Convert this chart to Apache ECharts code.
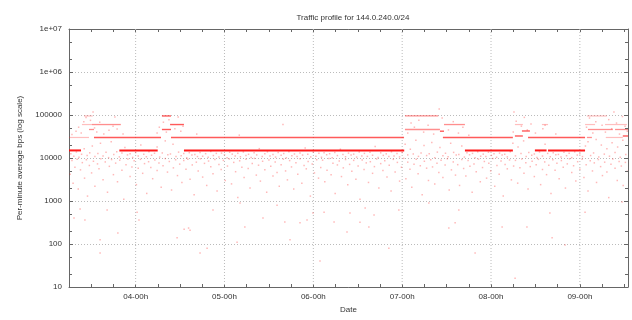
<!DOCTYPE html>
<html><head><meta charset="utf-8">
<script src="https://cdn.jsdelivr.net/npm/echarts@6/dist/echarts.min.js"></script>
<style>html,body{margin:0;padding:0;background:#fff}#c{width:632px;height:320px}</style>
</head><body><div id="c"></div>
<script>
// ---- data (x in hours since 03-00h, y in bps) ----
var tickHours = [24, 48, 72, 96, 120, 144];
var tickLabels = ['04-00h', '05-00h', '06-00h', '07-00h', '08-00h', '09-00h'];
var yTicks = [10, 100, 1000, 10000, 100000, 1000000, 10000000];
var yTickLabels = ['10', '100', '1000', '10000', '100000', '1e+06', '1e+07'];
var yMinorTicks = [20, 50, 200, 500, 2000, 5000, 20000, 50000, 200000, 500000, 2000000, 5000000];

// steady bands [startHour, endHour, bps]
var band15k = [[6,9.24,15000],[19.6,29.96,15000],[37.05,96.55,15000],[112.95,125.9,15000],[131.85,135.0,15000],[135.4,145.4,15000]];
var bandMain = [[12.75,30.85,30000],[33.55,96.5,30000],[107.0,125.9,30000],[130.0,145.4,30000],[126.45,128.6,32500],[31.1,33.55,95000],[31.1,33.55,46000],[106.2,107.3,42000],[128.35,130.5,42500],[155.6,157,32500],[33.3,37.05,60000]];
var bandSoft = [[96.75,105.75,95000],[96.75,106.2,46000],[107.3,112.95,60000],[12.2,20.0,60000],[11.4,12.75,46000],[145.9,147.25,30000],[146.2,152.9,46000],[153.5,157,46000]];
var bandFaint = [[6,11.4,30000],[10.05,12.4,95000],[9.5,12.2,60000],[145.9,151.3,95000],[145.4,148.1,60000],[150.8,156.7,60000],[151,155.6,30000],[126.45,128.6,60000],[133.75,135.4,60000]];

var noiseDeep = [[7.35,400],[9.0,650],[10.3,360],[14.4,125],[14.4,62],[16.3,620],[19.2,180],[24.4,550],[24.9,360],[35.2,140],[37.1,220],[38.3,235],[38.7,210],[41.4,62],[43.3,80],[44.9,620],[51.4,110],[52.2,900],[53.5,250],[58.4,400],[62.2,800],[64.3,325],[65.7,125],[68.4,310],[70.3,360],[71.9,525],[73.8,40],[74.9,550],[77.6,325],[81.1,190],[81.9,525],[84.6,320],[86.0,690],[87.0,250],[88.4,470],[92.4,80],[95.1,620],[103.2,900],[108.6,235],[110.3,310],[111.3,620],[115.7,62],[123.0,250],[126.5,16],[129.7,250],[135.9,525],[136.5,140],[140.0,95],[145.4,550],[155.4,950]];
var noiseMid = [[6.3,4200],[6.8,8800],[7.1,2600],[7.6,6100],[8.2,9400],[8.5,1900],[9.1,5300],[9.6,7800],[10.2,3400],[10.7,9100],[11.0,1300],[11.5,6700],[12.1,4500],[12.6,8400],[13.0,2200],[13.7,7300],[14.1,5600],[14.6,9600],[15.2,3100],[15.8,8100],[16.4,1600],[16.9,6400],[17.5,9200],[18.0,4100],[18.6,7600],[19.1,2800],[19.7,8900],[20.3,5200],[20.8,1100],[21.4,7000],[21.9,9500],[22.5,3700],[23.0,6200],[23.6,8600],[24.2,2400],[24.7,5800],[25.3,9300],[25.9,4400],[26.4,7400],[27.0,1500],[27.5,8200],[28.1,6000],[28.6,3300],[29.2,9000],[29.8,5100],[30.3,7700],[30.9,2100],[31.4,6600],[32.0,9700],[32.6,4700],[33.1,8300],[33.7,1800],[34.2,5900],[34.8,9100],[35.3,3900],[35.9,7200],[36.5,2700],[37.0,8700],[37.6,5500],[38.1,9400],[38.7,3200],[39.3,6900],[39.8,1400],[40.4,8000],[40.9,5000],[41.5,9600],[42.1,3600],[42.6,7500],[43.2,2300],[43.7,8500],[44.3,6300],[44.9,4300],[45.4,9200],[46.0,1700],[46.5,7100],[47.1,5400],[47.7,8800],[48.2,3000],[48.8,6500],[49.3,9500],[49.9,2500],[50.5,7900],[51.0,4800],[51.6,1200],[52.1,8600],[52.7,6100],[53.3,3500],[53.8,9300],[54.4,5700],[54.9,2000],[55.5,7400],[56.1,9800],[56.6,4000],[57.2,6800],[57.7,2900],[58.3,8400],[58.9,5300],[59.4,1600],[60.0,9000],[60.5,6400],[61.1,3800],[61.7,8100],[62.2,4600],[62.8,2200],[63.3,7000],[63.9,9400],[64.5,5000],[65.0,3100],[65.6,8700],[66.1,6200],[66.7,1900],[67.3,7800],[67.8,4200],[68.4,9600],[68.9,2600],[69.5,6700],[70.1,5600],[70.6,8300],[71.2,1300],[71.7,7300],[72.3,4500],[72.9,9100],[73.4,3400],[74.0,6000],[74.5,8900],[75.1,2800],[75.7,5200],[76.2,9700],[76.8,4100],[77.3,7600],[77.9,1500],[78.5,6900],[79.0,8500],[79.6,3700],[80.1,5900],[80.7,9200],[81.3,2400],[81.8,7100],[82.4,4900],[82.9,8800],[83.5,3200],[84.1,6500],[84.6,1100],[85.2,9000],[85.7,5400],[86.3,7700],[86.9,2700],[87.4,8200],[88.0,4400],[88.5,6300],[89.1,9500],[89.7,2000],[90.2,7400],[90.8,5100],[91.3,8600],[91.9,3600],[92.5,6800],[93.0,1700],[93.6,9300],[94.1,4700],[94.7,7900],[95.3,2900],[95.8,6100],[96.4,9800],[97.0,3300],[97.5,8000],[98.1,5500],[98.6,2100],[99.2,7200],[99.8,9400],[100.3,4300],[100.9,6600],[101.4,1400],[102.0,8400],[102.6,5800],[103.1,3000],[103.7,9100],[104.2,6200],[104.8,2500],[105.4,7500],[105.9,4600],[106.5,8900],[107.0,3500],[107.6,6900],[108.2,9600],[108.7,1800],[109.3,5300],[109.8,8100],[110.4,4000],[111.0,7000],[111.5,2300],[112.1,9200],[112.6,5700],[113.2,3800],[113.8,8700],[114.3,6400],[114.9,1600],[115.4,7300],[116.0,4800],[116.6,9400],[117.1,2800],[117.7,6000],[118.2,8300],[118.8,3400],[119.4,7600],[119.9,5000],[120.5,9700],[121.0,2200],[121.6,6700],[122.2,4200],[122.7,8500],[123.3,1300],[123.8,7100],[124.4,5600],[125.0,9000],[125.5,3100],[126.1,6500],[126.6,8800],[127.2,2600],[127.8,5900],[128.3,9500],[128.9,4400],[129.4,7800],[130.0,1900],[130.6,6300],[131.1,8400],[131.7,3700],[132.2,7000],[132.8,9300],[133.4,2400],[133.9,5400],[134.5,8100],[135.0,4100],[135.6,6800],[136.2,1500],[136.7,9100],[137.3,5200],[137.8,7500],[138.4,3300],[139.0,8700],[139.5,6100],[140.1,2000],[140.6,7300],[141.2,9600],[141.8,4600],[142.3,6600],[142.9,2900],[143.4,8200],[144.0,5500],[144.6,9400],[145.1,3500],[145.7,7000],[146.2,1700],[146.8,8600],[147.4,5000],[147.9,7700],[148.5,2700],[149.0,9200],[149.6,6300],[150.1,3900],[150.7,8000],[151.3,4700],[151.8,1200],[152.4,7200],[152.9,9500],[153.5,5800],[154.1,3000],[154.6,8300],[155.2,6500],[155.7,2300],[156.3,7900],[156.8,4900]];
var noiseNear = [[6.5,12500],[7.3,11000],[8.0,13800],[8.7,10400],[9.4,12200],[10.1,16500],[10.9,11500],[11.6,13200],[12.3,19000],[13.0,10800],[13.8,12800],[14.5,22000],[15.2,11200],[16.0,13600],[16.7,10200],[17.4,24000],[18.1,12000],[18.9,14000],[19.6,10600],[20.3,13000],[21.1,17500],[21.8,11800],[22.5,12600],[23.2,10300],[24.0,13400],[24.7,11100],[25.4,20000],[26.2,12300],[26.9,10700],[27.6,13900],[28.3,11600],[29.1,12900],[29.8,18000],[30.5,10500],[31.2,13100],[32.0,25000],[32.7,11900],[33.4,12400],[34.1,21000],[34.9,10900],[35.6,13700],[36.3,11300],[37.0,12700],[37.8,10100],[38.5,13300],[39.2,11700],[40.0,12100],[40.7,10800],[41.4,13500],[42.1,11000],[42.9,12600],[43.6,10400],[44.3,14100],[45.0,11400],[45.8,12800],[46.5,10600],[47.2,13000],[48.0,11900],[48.7,10200],[49.4,13600],[50.1,12300],[50.9,11100],[51.6,12900],[52.3,10700],[53.1,13800],[53.8,11500],[54.5,12200],[55.2,10300],[56.0,13200],[56.7,11800],[57.4,16500],[58.2,10900],[58.9,12500],[59.6,13900],[60.3,11200],[61.1,12000],[61.8,10500],[62.5,13400],[63.3,11600],[64.0,12700],[64.7,10100],[65.4,14000],[66.2,11300],[66.9,12400],[67.6,10800],[68.4,13100],[69.1,11700],[69.8,17000],[70.5,12200],[71.3,10600],[72.0,13700],[72.7,11000],[73.5,12900],[74.2,10400],[74.9,13300],[75.6,11900],[76.4,12600],[77.1,10200],[77.8,13500],[78.5,11400],[79.3,16000],[80.0,12100],[80.7,10700],[81.5,13000],[82.2,11800],[82.9,12300],[83.7,10500],[84.4,13800],[85.1,11200],[85.8,12800],[86.6,10900],[87.3,13600],[88.0,11600],[88.7,18500],[89.5,10300],[90.2,13200],[90.9,11500],[91.7,12500],[92.4,10800],[93.1,13900],[93.8,11100],[94.6,12700],[95.3,10600],[96.0,13400],[96.8,21000],[97.5,11800],[98.2,16000],[99.0,12400],[99.7,26000],[100.4,10900],[101.1,13100],[101.9,19500],[102.6,11400],[103.3,12600],[104.0,23000],[104.8,10200],[105.5,13700],[106.2,17500],[107.0,11300],[107.7,12900],[108.4,10700],[109.1,22000],[109.9,13500],[110.6,11700],[111.3,12000],[112.1,19000],[112.8,10500],[113.5,13300],[114.2,11900],[115.0,12800],[115.7,10100],[116.4,13900],[117.2,11000],[117.9,12300],[118.6,10800],[119.3,13600],[120.1,11500],[120.8,12600],[121.5,10400],[122.3,13000],[123.0,11800],[123.7,12200],[124.4,10600],[125.2,14000],[125.9,22000],[126.6,11200],[127.3,18000],[128.1,12700],[128.8,25000],[129.5,10900],[130.2,13400],[131.0,11600],[131.7,12400],[132.4,10300],[133.1,13800],[133.9,11100],[134.6,21000],[135.3,12800],[136.0,10700],[136.8,13200],[137.5,11900],[138.2,12100],[138.9,10500],[139.7,13600],[140.4,11300],[141.1,12900],[141.8,10200],[142.6,13900],[143.3,11700],[144.0,12500],[144.7,10800],[145.5,19000],[146.2,24000],[146.9,11400],[147.7,13100],[148.4,27000],[149.1,10600],[149.8,20000],[150.6,12300],[151.3,16500],[152.0,11000],[152.7,22500],[153.5,13500],[154.2,18000],[154.9,10400],[155.6,26000],[156.4,12000]];
var noiseHigh = [[6.8,35000],[7.9,42000],[8.6,52000],[9.3,38000],[10.0,70000],[10.6,88000],[12.5,117000],[11.8,75000],[12.9,50000],[13.5,40000],[14.3,68000],[15.4,36000],[16.8,44000],[17.9,55000],[18.4,90000],[19.0,47000],[20.6,36000],[29.8,38000],[30.4,52000],[31.5,68000],[32.3,40000],[33.0,78000],[34.6,48000],[35.5,90000],[36.2,42000],[36.8,55000],[40.5,36000],[52.0,34000],[63.8,60000],[97.5,38000],[98.4,65000],[99.3,52000],[100.5,75000],[101.8,40000],[103.0,58000],[104.5,36000],[106.0,138000],[106.8,85000],[108.5,45000],[109.8,70000],[111.2,38000],[112.4,52000],[114.0,34000],[126.0,40000],[126.2,117000],[126.8,72000],[128.2,55000],[129.0,88000],[129.8,45000],[130.8,62000],[132.0,38000],[134.6,58000],[134.0,48000],[137.5,36000],[145.8,52000],[146.6,85000],[147.5,38000],[148.3,70000],[153.2,117000],[150.0,58000],[150.9,40000],[151.8,78000],[152.6,48000],[153.9,65000],[154.7,36000],[155.5,92000],[156.2,55000],[156.8,42000]];

var xMin = 6, xMax = 157, yMin = 10, yMax = 10000000;
var FONT = "'Liberation Sans', Arial, sans-serif";
var TXT = '#333';

function bandSeries(data, width, color) {
  return {
    type: 'custom', data: data, encode: { x: [0, 1], y: 2 }, z: 3, silent: true,
    renderItem: function (params, api) {
      var y = api.value(2);
      var p0 = api.coord([api.value(0), y]);
      var p1 = api.coord([api.value(1), y]);
      return { type: 'line', shape: { x1: p0[0], y1: p0[1], x2: p1[0], y2: p1[1] },
               style: { stroke: color, lineWidth: width } };
    }
  };
}

var chart = echarts.init(document.getElementById('c'), null, { renderer: 'canvas' });
var axisCommon = {
  min: xMin, max: xMax, interval: 6, type: 'value',
  axisLine: { show: true, onZero: false, lineStyle: { color: '#666', width: 1 } },
  axisTick: { show: true, inside: true, length: 3, lineStyle: { color: '#666' } },
  splitLine: { show: false }
};
var yCommon = {
  type: 'log', logBase: 10, min: yMin, max: yMax,
  axisLine: { show: true, onZero: false, lineStyle: { color: '#666', width: 1 } },
  axisTick: { show: true, inside: true, length: 4, lineStyle: { color: '#666' } }
};

chart.setOption({
  animation: false,
  backgroundColor: '#fff',
  textStyle: { fontFamily: FONT },
  title: {
    text: 'Traffic profile for 144.0.240.0/24', left: 348, top: 9, textAlign: 'center',
    textStyle: { fontFamily: FONT, fontSize: 8, fontWeight: 'normal', color: TXT }
  },
  grid: { left: 69, right: 4, top: 29, bottom: 33 },
  xAxis: [
    Object.assign({}, axisCommon, {
      position: 'bottom', name: 'Date', nameLocation: 'middle', nameGap: 19,
      nameTextStyle: { fontFamily: FONT, fontSize: 8, color: TXT },
      axisLabel: { fontFamily: FONT, fontSize: 8, color: TXT, margin: 6,
        formatter: function (v) { var i = tickHours.indexOf(Math.round(v * 1000) / 1000); return i >= 0 ? tickLabels[i] : ''; } }
    }),
    Object.assign({}, axisCommon, { position: 'top', axisLabel: { show: false } })
  ],
  yAxis: [
    Object.assign({}, yCommon, {
      position: 'left', name: 'Per-minute average bps (log scale)', nameLocation: 'middle', nameGap: 45, nameRotate: 90,
      nameTextStyle: { fontFamily: FONT, fontSize: 8, color: TXT },
      axisLabel: { fontFamily: FONT, fontSize: 8, color: TXT, margin: 7,
        formatter: function (v) {
          for (var i = 0; i < yTicks.length; i++) if (Math.abs(Math.log10(v) - Math.log10(yTicks[i])) < 1e-6) return yTickLabels[i];
          return '';
        } },
      splitLine: { show: true, lineStyle: { color: '#bbb', width: 1, type: [1, 2] } }
    }),
    Object.assign({}, yCommon, { position: 'right', axisLabel: { show: false }, splitLine: { show: false } })
  ],
  series: [
    { // vertical grid lines at day boundaries
      type: 'custom', data: tickHours, encode: { x: 0 }, z: 1, silent: true,
      renderItem: function (params, api) {
        var a = api.coord([api.value(0), yMax]), b = api.coord([api.value(0), yMin]);
        return { type: 'line', shape: { x1: a[0], y1: a[1], x2: b[0], y2: b[1] },
                 style: { stroke: '#bbb', lineWidth: 1, lineDash: [1, 2] } };
      }
    },
    { // minor ticks on log axis (left and right)
      type: 'custom', data: yMinorTicks, encode: { y: 0 }, z: 5, silent: true,
      renderItem: function (params, api) {
        var cs = params.coordSys;
        var p = api.coord([xMin, api.value(0)]);
        var yy = Math.round(p[1]) + 0.5;
        return { type: 'group', children: [
          { type: 'line', shape: { x1: cs.x, y1: yy, x2: cs.x + 3, y2: yy }, style: { stroke: '#666', lineWidth: 1 } },
          { type: 'line', shape: { x1: cs.x + cs.width - 3, y1: yy, x2: cs.x + cs.width, y2: yy }, style: { stroke: '#666', lineWidth: 1 } }
        ] };
      }
    },
    {
      type: 'scatter', symbol: 'rect', symbolSize: 1.5, z: 2, silent: true,
      itemStyle: { color: 'rgba(255,0,0,0.35)' },
      data: noiseDeep.concat(noiseMid, noiseNear, noiseHigh)
    },
    bandSeries(bandFaint, 1.2, 'rgba(255,40,40,0.3)'),
    bandSeries(bandSoft, 1.3, 'rgba(255,30,30,0.5)'),
    bandSeries(bandMain, 1.4, 'rgba(255,20,20,0.7)'),
    bandSeries(band15k, 2, 'rgba(255,0,0,0.9)')
  ]
});
</script>
</body></html>
